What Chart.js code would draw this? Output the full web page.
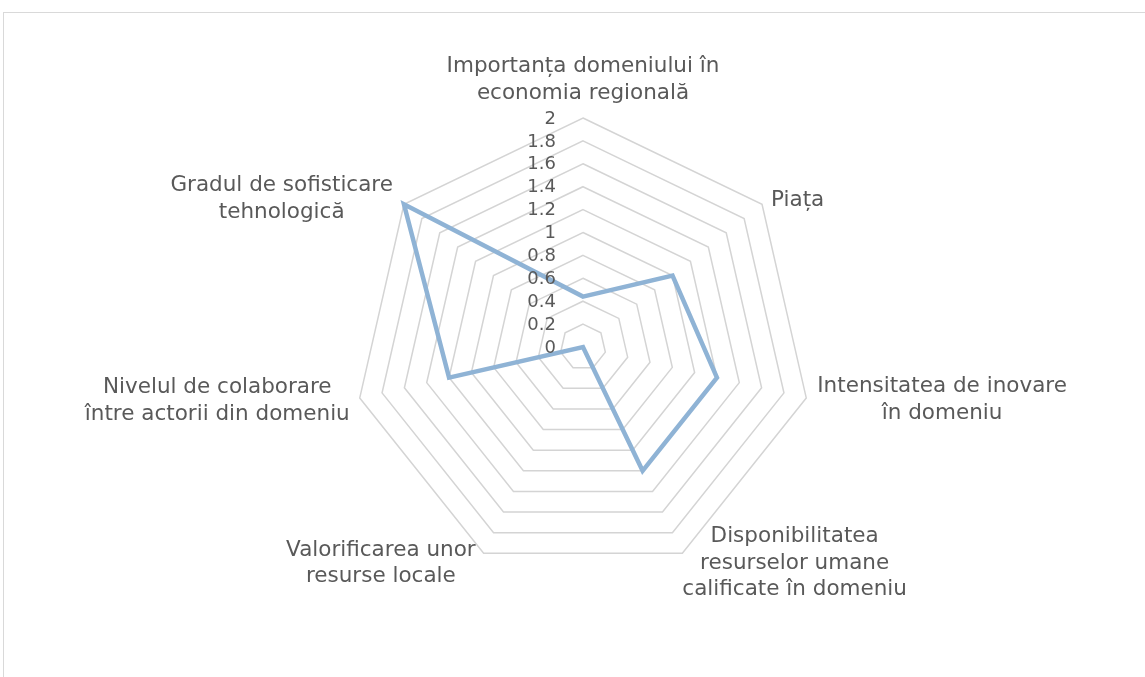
<!DOCTYPE html>
<html>
<head>
<meta charset="utf-8">
<script src="https://cdn.jsdelivr.net/npm/chart.js@4"></script>
<style>
  html, body { margin: 0; padding: 0; background: #fff; overflow: hidden; }
  #frame { position: absolute; left: 3px; top: 12px; width: 1200px; height: 700px; border: 1px solid #d9d9d9; }
  #wrap { position: absolute; left: 0; top: 0; width: 1145px; height: 677px; }
</style>
</head>
<body>
<div id="frame"></div>
<div id="wrap"><canvas id="myChart"></canvas></div>
<script>
const categories = [
  ['Importanța domeniului în', 'economia regională'],
  ['Piața'],
  ['Intensitatea de inovare', 'în domeniu'],
  ['Disponibilitatea', 'resurselor umane', 'calificate în domeniu'],
  ['Valorificarea unor', 'resurse locale'],
  ['Nivelul de colaborare', 'între actorii din domeniu'],
  ['Gradul de sofisticare', 'tehnologică']
];
const scores = [0.44, 1.0, 1.2, 1.2, 0, 1.2, 2];
const tickLabels = ['0', '0.2', '0.4', '0.6', '0.8', '1', '1.2', '1.4', '1.6', '1.8', '2'];

const textColor = '#595959';
const fontFamily = '"DejaVu Sans", Verdana, sans-serif';

// horizontal gap from the outer vertex and vertical shift of each label block
const labelPlace = [
  { gap: 0, dy: -11.5 },
  { gap: 9, dy: -4 },
  { gap: 11, dy: 2 },
  { gap: 0, dy: 10 },
  { gap: 8, dy: 10 },
  { gap: 10, dy: 3 },
  { gap: 11, dy: -5.5 }
];

// draws tick labels left of the vertical axis and centred multi-line point labels
const labelsPlugin = {
  id: 'labels',
  afterDraw(chart) {
    const scale = chart.scales.r;
    const ctx = chart.ctx;
    ctx.save();
    ctx.fillStyle = textColor;

    ctx.font = '18px ' + fontFamily;
    ctx.textAlign = 'right';
    ctx.textBaseline = 'middle';
    scale.ticks.forEach((t, i) => {
      const d = scale.getDistanceFromCenterForValue(t.value);
      ctx.fillText(tickLabels[i], scale.xCenter - 27, scale.yCenter - d + 1);
    });

    ctx.font = '21.5px ' + fontFamily;
    ctx.textBaseline = 'middle';
    ctx.textAlign = 'center';
    const lineH = 26.5;
    categories.forEach((lines, i) => {
      const p = scale.getPointPosition(i, scale.drawingArea);
      const s = Math.sin(i * 2 * Math.PI / categories.length);
      const w = Math.max(...lines.map(l => ctx.measureText(l).width));
      const h = lines.length * lineH;
      const pl = labelPlace[i];
      let cx, cy;
      if (Math.abs(s) < 0.1) {
        cx = p.x;
        cy = p.y + pl.dy - h / 2;
      } else {
        cx = s > 0 ? p.x + pl.gap + w / 2 : p.x - pl.gap - w / 2;
        cy = p.y + pl.dy;
      }
      lines.forEach((l, k) => {
        ctx.fillText(l, cx, cy - h / 2 + lineH / 2 + k * lineH);
      });
    });
    ctx.restore();
  }
};

const ctx = document.getElementById('myChart').getContext('2d');
new Chart(ctx, {
  type: 'radar',
  data: {
    labels: categories,
    datasets: [{
      data: scores,
      borderColor: '#8fb3d5',
      borderWidth: 4.5,
      pointRadius: 0,
      pointHoverRadius: 0,
      fill: false,
      tension: 0
    }]
  },
  options: {
    responsive: true,
    maintainAspectRatio: false,
    animation: false,
    layout: { padding: { top: 118, bottom: 101, left: 354, right: 333 } },
    plugins: { legend: { display: false }, tooltip: { enabled: false } },
    scales: {
      r: {
        min: 0,
        max: 2,
        ticks: { stepSize: 0.2, display: false },
        grid: { color: '#d4d4d4', lineWidth: 1.5 },
        angleLines: { display: false },
        pointLabels: { display: false }
      }
    }
  },
  plugins: [labelsPlugin]
});
</script>
</body>
</html>
